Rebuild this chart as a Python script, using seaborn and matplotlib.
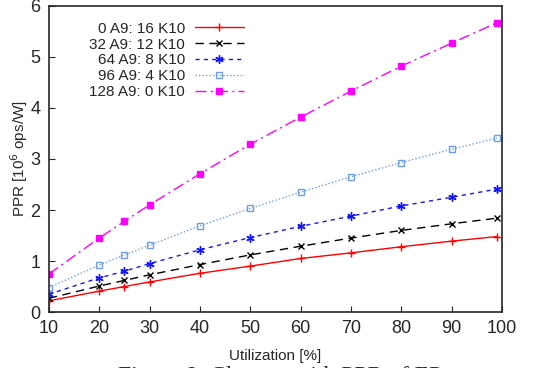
import numpy as np
import matplotlib
matplotlib.use("Agg")
import matplotlib.pyplot as plt
import seaborn as sns
import pandas as pd

# DATEN

utilization = [10, 20, 25, 30, 40, 50, 60, 70, 80, 90, 99]

ppr_0a9 = [0.22, 0.41, 0.50, 0.59, 0.76, 0.90, 1.05, 1.16, 1.28, 1.39, 1.48]
ppr_32a9 = [0.27, 0.51, 0.62, 0.73, 0.93, 1.12, 1.29, 1.45, 1.60, 1.73, 1.84]
ppr_64a9 = [0.35, 0.67, 0.80, 0.95, 1.22, 1.46, 1.68, 1.88, 2.08, 2.25, 2.41]
ppr_96a9 = [0.48, 0.92, 1.12, 1.31, 1.69, 2.03, 2.35, 2.65, 2.93, 3.19, 3.41]
ppr_128a9 = [0.745, 1.45, 1.78, 2.10, 2.71, 3.29, 3.82, 4.33, 4.82, 5.27, 5.67]

labels = ["0 A9: 16 K10", "32 A9: 12 K10", "64 A9: 8 K10",
          "96 A9: 4 K10", "128 A9: 0 K10"]

x_ticks = [10, 20, 30, 40, 50, 60, 70, 80, 90, 100]
y_ticks = [0, 1, 2, 3, 4, 5, 6]

# STIL

sns.set_style("ticks")
plt.rcParams["font.family"] = ["Liberation Sans", "DejaVu Sans"]
plt.rcParams["xtick.direction"] = "in"
plt.rcParams["ytick.direction"] = "in"

styles = [
    dict(color="#ff0000", linestyle="-", marker="+", markersize=5.5),
    dict(color="#000000", linestyle=(0, (6, 4)), marker="x", markersize=4.5),
    dict(color="#1414ff", linestyle=(0, (3, 3)), marker=(6, 2, 0), markersize=6),
    dict(color="#6f9ee8", linestyle=(0, (1, 1.5)), marker="s", markersize=4.5,
         markerfacecolor="none"),
    dict(color="#ff00ff", linestyle=(0, (8, 3, 1.5, 3)), marker="s", markersize=4.5),
]

series = [ppr_0a9, ppr_32a9, ppr_64a9, ppr_96a9, ppr_128a9]

fig = plt.figure(figsize=(5.43, 3.68), dpi=100)
ax = fig.add_axes([0.090, 0.152, 0.8345, 0.832])

for label, values, st in zip(labels, series, styles):
    df = pd.DataFrame({"util": utilization, "ppr": values})
    # seaborn setzt sonst weiße Markerränder -> explizit Linienfarbe
    sns.lineplot(data=df, x="util", y="ppr", ax=ax, label=label,
                 linewidth=1.0, markeredgecolor=st["color"],
                 markeredgewidth=1.0, **st)

ax.set_xlim(10, 100)
ax.set_ylim(0, 6)
ax.set_xticks(x_ticks)
ax.set_yticks(y_ticks)
ax.tick_params(labelsize=13, length=4, width=0.8, pad=6)
for s in ax.spines.values():
    s.set_linewidth(1.2)

ax.set_xlabel("Utilization [%]", fontsize=11, labelpad=8)
ax.set_ylabel("PPR [10$^6$ ops/W]", fontsize=11, labelpad=0)

leg = ax.legend(loc="upper right", bbox_to_anchor=(0.43, 0.948), frameon=False,
                markerfirst=False, fontsize=11, handlelength=3.2,
                labelspacing=0.12, handletextpad=0.65, borderaxespad=0.0,
                borderpad=0.0)
# Text rechtsbündig wie bei gnuplot
leg._legend_handle_box.get_children()[0].align = "right"

fig.text(0.515, 0.006, "Figure 8: Clusters with PPR of EP", ha="center", va="top",
         fontsize=17, family=["Liberation Serif", "DejaVu Serif"])

fig.savefig("out.png", dpi=100)
